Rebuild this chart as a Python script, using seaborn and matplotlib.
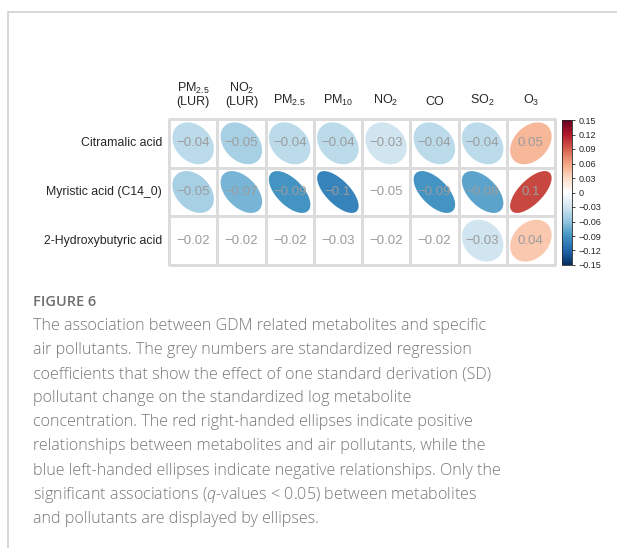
import numpy as np
import pandas as pd
import matplotlib
matplotlib.use("Agg")
import matplotlib.pyplot as plt
import seaborn as sns
from matplotlib.colors import LinearSegmentedColormap, ListedColormap, Normalize
from matplotlib.patches import Polygon
from matplotlib.lines import Line2D
import matplotlib.cm as cm

# data
metabolites = ["Citramalic acid", "Myristic acid (C14_0)", "2-Hydroxybutyric acid"]
pollutants = [
    "PM$_\\mathregular{2.5}$\n(LUR)",
    "NO$_\\mathregular{2}$\n(LUR)",
    "PM$_\\mathregular{2.5}$",
    "PM$_\\mathregular{10}$",
    "NO$_\\mathregular{2}$",
    "CO",
    "SO$_\\mathregular{2}$",
    "O$_\\mathregular{3}$",
]
citramalic = [-0.04, -0.05, -0.04, -0.04, -0.03, -0.04, -0.04, 0.05]
myristic = [-0.05, -0.07, -0.09, -0.10, -0.05, -0.09, -0.08, 0.10]
hydroxybutyric = [-0.02, -0.02, -0.02, -0.03, -0.02, -0.02, -0.03, 0.04]

# q < 0.05 -> ellipse drawn
sig_citramalic = [True, True, True, True, True, True, True, True]
sig_myristic = [True, True, True, True, False, True, True, True]
sig_hydroxybutyric = [False, False, False, False, False, False, True, True]

cbar_ticks = [0.15, 0.12, 0.09, 0.06, 0.03, 0, -0.03, -0.06, -0.09, -0.12, -0.15]
lim = 0.15

caption_lines = [
    "The association between GDM related metabolites and specific",
    "air pollutants. The grey numbers are standardized regression",
    "coefficients that show the effect of one standard derivation (SD)",
    "pollutant change on the standardized log metabolite",
    "concentration. The red right-handed ellipses indicate positive",
    "relationships between metabolites and air pollutants, while the",
    "blue left-handed ellipses indicate negative relationships. Only the",
    "significant associations ($\\mathit{q}$-values < 0.05) between metabolites",
    "and pollutants are displayed by ellipses.",
]

sns.set_style("white")
plt.rcParams["font.family"] = ["Liberation Sans", "DejaVu Sans"]
plt.rcParams["mathtext.fontset"] = "custom"
plt.rcParams["mathtext.rm"] = "Open Sans"
plt.rcParams["mathtext.it"] = "Open Sans:italic:light"

W, H = 617, 548
fig = plt.figure(figsize=(W / 100, H / 100), dpi=100)

# corrplot-like palette (blue negative, red positive)
cmap = LinearSegmentedColormap.from_list("corr", [
    "#053061", "#2166AC", "#4393C3", "#92C5DE", "#D1E5F0", "#FFFFFF",
    "#FDDBC7", "#F4A582", "#D6604D", "#B2182B", "#67001F"])
norm = Normalize(vmin=-lim, vmax=lim)

df = pd.DataFrame([citramalic, myristic, hydroxybutyric], index=metabolites, columns=pollutants)
sig = pd.DataFrame([sig_citramalic, sig_myristic, sig_hydroxybutyric], index=metabolites, columns=pollutants)
labels = df.map(lambda v: f"{v:g}".replace("-", "\u2212"))

ax = fig.add_axes([169 / W, 1 - 265 / H, 386 / W, 146 / H])
sns.heatmap(df, ax=ax, cmap=ListedColormap(["white"]), cbar=False,
            annot=labels, fmt="", linewidths=0.8, linecolor="#dcdcdc",
            annot_kws=dict(color="#9c9c9c", fontsize=9.5))
ax.collections[0].set_clip_on(False)

# ellipses, corrplot style: shape from scaled value
k = np.linspace(0, 2 * np.pi, 100)
scale = 0.86
for i, m in enumerate(metabolites):
    for j, p in enumerate(pollutants):
        if not sig.loc[m, p]:
            continue
        v = df.loc[m, p]
        d = np.arccos(v / lim)
        xs = j + 0.5 + scale * np.cos(k + d / 2) / 2
        ys = i + 0.5 - scale * np.cos(k - d / 2) / 2
        ax.add_patch(Polygon(np.column_stack([xs, ys]), closed=True,
                             facecolor=cmap(norm(v)), edgecolor="none", zorder=2))

ax.xaxis.tick_top()
ax.set_xticklabels(pollutants, rotation=0, fontsize=9, linespacing=1.0)
ax.set_yticklabels(metabolites, rotation=0, fontsize=8.8)
ax.tick_params(axis="x", length=0, pad=8)
ax.tick_params(axis="y", length=0, pad=5)
ax.set_xlabel("")
ax.set_ylabel("")

# colour bar
cax = fig.add_axes([562 / W, 1 - 265 / H, 10 / W, 145 / H])
sm = cm.ScalarMappable(norm=norm, cmap=cmap)
cb = fig.colorbar(sm, cax=cax, ticks=cbar_ticks)
cb.ax.set_yticklabels([f"{t:g}".replace("-", "\u2212") for t in cbar_ticks])
cb.ax.tick_params(labelsize=6.5, length=2.5, width=0.6, pad=2)
cb.outline.set_linewidth(0.6)

# card frame
fig.add_artist(Line2D([8 / W, 1], [1 - 12 / H, 1 - 12 / H], color="#d0d0d0", lw=1.2))
fig.add_artist(Line2D([8 / W, 8 / W], [0, 1 - 12 / H], color="#d0d0d0", lw=1.2))

# caption
fig.text(33 / W, 1 - 306 / H, "FIGURE 6", family="Open Sans", fontsize=10.5,
         fontweight="semibold", color="#6e6e6e", va="baseline")
for n, line in enumerate(caption_lines):
    fig.text(33 / W, 1 - (330 + 24.1 * n) / H, line, family="Open Sans",
             fontsize=11.6, fontweight="light", color="#777777", va="baseline")

fig.savefig("out.png", dpi=100)
